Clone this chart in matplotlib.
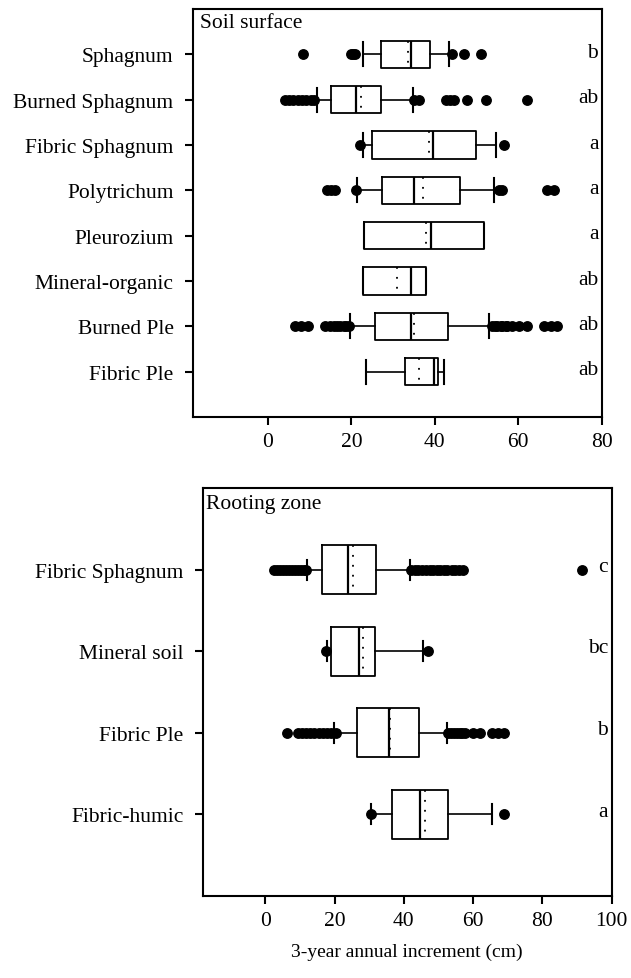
"""Box plots of 3-year annual increment by substrate, soil surface vs rooting zone."""

import matplotlib

matplotlib.use("Agg")
import matplotlib.pyplot as plt

plt.rcParams["font.family"] = ["Liberation Serif", "DejaVu Serif"]

# Soil surface substrates (top to bottom)
surface_names = [
    "Sphagnum", "Burned Sphagnum", "Fibric Sphagnum", "Polytrichum",
    "Pleurozium", "Mineral-organic", "Burned Ple", "Fibric Ple",
]
surface_whislo = [22.7, 11.7, 22.7, 21.3, 23.0, 22.7, 19.6, 23.5]
surface_q1 = [27.1, 15.0, 25.0, 27.4, 23.0, 22.7, 25.6, 32.9]
surface_med = [34.2, 21.1, 39.6, 35.0, 39.0, 34.2, 34.2, 39.7]
surface_mean = [33.5, 22.3, 38.6, 37.1, 37.8, 30.9, 35.1, 36.3]
surface_q3 = [38.9, 27.1, 49.8, 46.1, 51.8, 37.9, 43.2, 40.7]
surface_whishi = [43.4, 34.7, 54.7, 54.1, 51.8, 37.9, 53.1, 42.2]
surface_fliers = [
    [8.3, 19.8, 20.3, 20.8, 44.1, 47.0, 51.0],
    [4.0, 5.1, 6.0, 7.2, 8.1, 9.0, 10.2, 11.0, 35.0, 36.3, 42.8, 43.6, 44.5, 47.7, 52.3, 62.1],
    [22.1, 56.5],
    [14.1, 15.1, 16.1, 21.0, 55.3, 56.1, 66.9, 68.5],
    [],
    [],
    [6.4, 8.0, 9.6, 13.6, 14.9, 15.8, 16.5, 17.3, 18.1, 18.8, 19.5,
     53.8, 54.5, 55.0, 55.8, 56.2, 57.0, 57.4, 58.6, 60.2, 62.2, 66.2, 67.8, 69.4],
    [],
]
surface_letters = ["b", "ab", "a", "a", "a", "ab", "ab", "ab"]

# Rooting zone substrates
root_names = ["Fibric Sphagnum", "Mineral soil", "Fibric Ple", "Fibric-humic"]
root_whislo = [12.0, 17.9, 19.7, 30.6]
root_q1 = [16.4, 18.9, 26.5, 36.7]
root_med = [24.0, 27.2, 35.7, 44.7]
root_mean = [25.3, 28.2, 35.9, 46.1]
root_q3 = [32.1, 31.6, 44.5, 52.8]
root_whishi = [41.9, 45.6, 52.5, 65.4]
root_fliers = [
    [2.6, 3.4, 4.3, 5.1, 6.0, 6.8, 7.7, 8.5, 9.4, 10.2, 11.1, 11.8,
     42.2, 43.3, 44.2, 45.4, 46.3, 47.5, 48.4, 49.6, 50.5, 51.7, 52.6, 53.8, 54.7, 55.9, 57.2, 91.5],
    [17.6, 47.0],
    [6.3, 9.4, 10.6, 11.8, 13.0, 14.2, 15.4, 16.6, 17.8, 19.0, 20.5,
     52.9, 53.7, 54.5, 55.3, 56.1, 56.9, 57.7, 60.1, 62.0, 65.4, 67.3, 69.0],
    [30.4, 69.0],
]
root_letters = ["c", "bc", "b", "a"]


def make_stats(names, whislo, q1, med, mean, q3, whishi, fliers):
    return [
        {"label": n, "whislo": lo, "q1": a, "med": m, "mean": mu,
         "q3": b, "whishi": hi, "fliers": f}
        for n, lo, a, m, mu, b, hi, f in zip(names, whislo, q1, med, mean, q3, whishi, fliers)
    ]


def draw_panel(ax, stats, letters, xmax, xticks, capwidth):
    positions = list(range(1, len(stats) + 1))
    ax.bxp(
        stats,
        positions=positions,
        widths=0.6,
        orientation="horizontal",
        showmeans=True,
        meanline=True,
        capwidths=capwidth,
        boxprops=dict(color="black", linewidth=1.3),
        medianprops=dict(color="black", linewidth=1.6),
        whiskerprops=dict(color="black", linewidth=1.2),
        capprops=dict(color="black", linewidth=1.5),
        meanprops=dict(color="black", linestyle=(0, (1, 4.5)), linewidth=1.3),
        flierprops=dict(marker="o", markerfacecolor="black", markeredgecolor="black",
                        markersize=6.8, linestyle="none"),
    )
    ax.set_ylim(len(stats) + 1, 0)
    ax.set_xlim(-18, xmax)
    ax.set_xticks(xticks)
    ax.set_yticks(positions, [s["label"] for s in stats])
    ax.tick_params(axis="both", direction="out", length=6, width=1.5, labelsize=15.5)
    ax.tick_params(axis="y", pad=8)
    ax.tick_params(axis="x", pad=5)
    for spine in ax.spines.values():
        spine.set_linewidth(1.5)

    for pos, letter in zip(positions, letters):
        ax.text(0.992, pos - 0.04, letter, transform=ax.get_yaxis_transform(),
                ha="right", va="center", fontsize=15.5)
    return ax


fig = plt.figure(figsize=(6.31, 9.79), dpi=100)
ax_top = fig.add_axes([0.3059, 0.5730, 0.6474, 0.4168])
ax_bot = fig.add_axes([0.3217, 0.0838, 0.6474, 0.4168])

draw_panel(
    ax_top,
    make_stats(surface_names, surface_whislo, surface_q1, surface_med, surface_mean,
               surface_q3, surface_whishi, surface_fliers),
    surface_letters, 80, [0, 20, 40, 60, 80], 0.53,
)
ax_top.text(0.018, 0.99, "Soil surface", transform=ax_top.transAxes,
            ha="left", va="top", fontsize=15.5)

draw_panel(
    ax_bot,
    make_stats(root_names, root_whislo, root_q1, root_med, root_mean,
               root_q3, root_whishi, root_fliers),
    root_letters, 100, [0, 20, 40, 60, 80, 100], 0.245,
)
ax_bot.text(0.007, 0.985, "Rooting zone", transform=ax_bot.transAxes,
            ha="left", va="top", fontsize=15.5)
ax_bot.set_xlabel("3-year annual increment (cm)", fontsize=14, labelpad=9)

fig.savefig("out.png", dpi=100, facecolor="white")
